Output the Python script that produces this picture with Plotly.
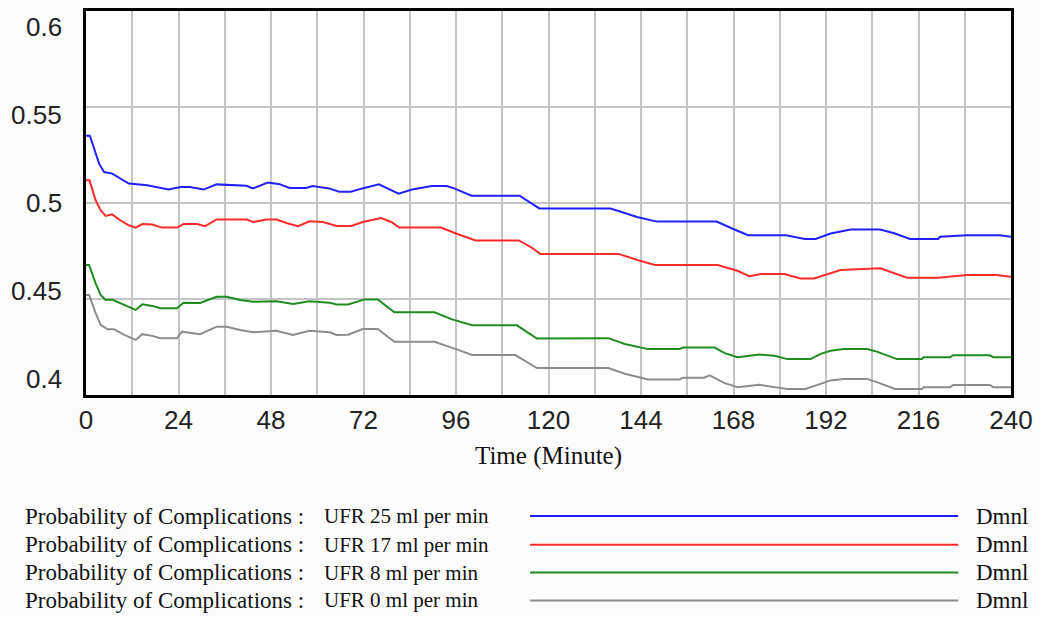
import plotly.graph_objects as go

# Simulated probability of complications over a 240-minute session,
# one series per ultrafiltration rate: (time in minutes, probability)
ufr25 = [(0, 0.535), (1, 0.535), (3.4, 0.5205), (4.7, 0.5161), (6.8, 0.5153), (9, 0.5127),
         (11.1, 0.5101), (15.9, 0.5092), (21.4, 0.507), (24.5, 0.5083), (27, 0.5083), (30.5, 0.507),
         (33.9, 0.5097), (41.6, 0.509), (43.3, 0.5076), (47.2, 0.5107), (50.2, 0.5098), (52.8, 0.5078),
         (57.1, 0.5078), (58.8, 0.5088), (63.1, 0.5076), (65.7, 0.5059), (68.7, 0.5059), (71.7, 0.5076),
         (76, 0.5097), (81.1, 0.5049), (84.6, 0.507), (89.7, 0.5088), (93.6, 0.5088), (95.7, 0.5075),
         (100, 0.5038), (112.5, 0.5038), (114.6, 0.501), (117.6, 0.4972), (136.1, 0.4971), (143, 0.4927),
         (148.1, 0.4903), (163.6, 0.4903), (168.7, 0.4858), (171.8, 0.4832), (181.6, 0.4832),
         (186.5, 0.4813), (189.3, 0.4813), (193.2, 0.4841), (198.4, 0.4862), (206, 0.4862),
         (209.5, 0.4844), (213.8, 0.4813), (221.1, 0.4813), (221.6, 0.4824), (228.5, 0.4832),
         (237.1, 0.4832), (240, 0.4824)]

ufr17 = [(0, 0.5118), (0.9, 0.5118), (2.5, 0.5014), (3.8, 0.4962), (5.1, 0.4933), (6.8, 0.4941),
         (8.6, 0.4914), (11.1, 0.4884), (12.9, 0.4872), (14.6, 0.489), (17.2, 0.4888), (19.7, 0.4872),
         (23.6, 0.4872), (25.3, 0.489), (28.8, 0.489), (30.9, 0.4879), (33.9, 0.4914), (41.7, 0.4914),
         (43.4, 0.4901), (46.9, 0.4914), (49.5, 0.4914), (52, 0.4896), (55, 0.4879), (58, 0.4905),
         (61.5, 0.4901), (63.2, 0.489), (65, 0.488), (68.8, 0.488), (71.8, 0.4901), (76.6, 0.4922),
         (79.2, 0.4901), (81.3, 0.4872), (92.1, 0.4872), (96, 0.4841), (101.1, 0.4805), (112.3, 0.4805),
         (115.3, 0.4772), (117.9, 0.4735), (138.1, 0.4735), (143.3, 0.4702), (147.6, 0.4677),
         (163.9, 0.4677), (169, 0.4647), (172.1, 0.4619), (175.1, 0.463), (181.2, 0.463),
         (185.4, 0.4607), (188.9, 0.4607), (192.3, 0.463), (195.8, 0.4651), (206.1, 0.466),
         (210.4, 0.463), (213, 0.4611), (221.2, 0.4611), (228.5, 0.4625), (236.2, 0.4625), (240, 0.4616)]

ufr8 = [(0, 0.4677), (0.8, 0.4677), (2.5, 0.4581), (3.8, 0.4521), (5.1, 0.4495), (6.8, 0.4497),
        (9.9, 0.4469), (12.9, 0.4443), (14.6, 0.4472), (17.2, 0.4464), (19.3, 0.4452), (23.6, 0.4452),
        (25.3, 0.4481), (29.6, 0.4479), (33.9, 0.4512), (36.5, 0.4512), (40, 0.4495), (43.4, 0.4486),
        (49.4, 0.4488), (53.7, 0.4474), (58, 0.4488), (63.2, 0.4481), (65, 0.4472), (68, 0.4472),
        (72.3, 0.4498), (75.7, 0.4498), (80, 0.4431), (90.4, 0.4431), (95, 0.4394), (100.2, 0.4363),
        (111.8, 0.4363), (117, 0.4294), (135.5, 0.4296), (139.8, 0.4266), (145.8, 0.4239), (154, 0.4239),
        (154.9, 0.4247), (163.1, 0.4247), (165.7, 0.4218), (169.1, 0.4197), (174.7, 0.4211),
        (178.6, 0.4204), (182, 0.4187), (188, 0.4187), (190.6, 0.4214), (193.2, 0.423), (196.6, 0.4239),
        (202.7, 0.4239), (205.2, 0.4226), (209.5, 0.4197), (210.4, 0.4187), (216.9, 0.4187),
        (217.3, 0.4197), (224.2, 0.4197), (225, 0.4207), (234.5, 0.4207), (235.4, 0.4197), (240, 0.4197)]

ufr0 = [(0, 0.4521), (0.8, 0.4521), (2.5, 0.4426), (3.8, 0.4365), (5.6, 0.4342), (7.3, 0.4342),
        (9.9, 0.4313), (12.9, 0.4287), (14.6, 0.4317), (17.2, 0.4308), (19.3, 0.4296), (23.6, 0.4296),
        (24.9, 0.433), (29.6, 0.4317), (33.9, 0.4356), (36.5, 0.4355), (40, 0.4339), (43.4, 0.4327),
        (49.4, 0.4335), (53.7, 0.4313), (58, 0.4335), (63.2, 0.4327), (65, 0.4313), (68, 0.4314),
        (71.8, 0.4344), (75.7, 0.4344), (80, 0.4277), (90.4, 0.4277), (96, 0.4239), (100.2, 0.4208),
        (111.4, 0.4208), (117, 0.414), (135.5, 0.414), (139.8, 0.4111), (145.8, 0.4081), (154, 0.4081),
        (154.9, 0.409), (160.4, 0.409), (161.8, 0.4102), (165.7, 0.4062), (169.1, 0.4041),
        (174.7, 0.4053), (178.6, 0.4041), (182, 0.4031), (186.7, 0.4031), (189.8, 0.4053),
        (193.2, 0.4076), (196.6, 0.4083), (202.7, 0.4083), (205.2, 0.4067), (209.9, 0.4031),
        (216.9, 0.4031), (217.3, 0.4041), (224.2, 0.4041), (225, 0.4052), (234.5, 0.4052),
        (235.4, 0.4041), (240, 0.4041)]

series_names = ["UFR 25 ml per min", "UFR 17 ml per min", "UFR 8 ml per min", "UFR 0 ml per min"]
series_data = [ufr25, ufr17, ufr8, ufr0]
series_colors = ["#2020ff", "#ff2a2a", "#1e8c1e", "#8c8c8c"]
variable_name = "Probability of Complications :"
unit_label = "Dmnl"

x_ticks = [0, 24, 48, 72, 96, 120, 144, 168, 192, 216, 240]
y_ticks = [0.6, 0.55, 0.5, 0.45, 0.4]
y_tick_text = ["0.6", "0.55", "0.5", "0.45", "0.4"]
x_title = "Time (Minute)"

W, H = 1041, 617
M_L, M_R, M_T, M_B = 86, 26, 8, 222
PW, PH = W - M_L - M_R, H - M_T - M_B


def paper_x(px):
    return (px - M_L) / PW


def paper_y(py):
    return (H - M_B - py) / PH


fig = go.Figure()
for name, data, color in zip(series_names, series_data, series_colors):
    t = [p[0] for p in data]
    v = [p[1] for p in data]
    fig.add_trace(go.Scatter(x=t, y=v, mode="lines", name=name,
                             line=dict(color=color, width=2), showlegend=False))

annotations = []
# value labels on the left, spread inside the axis span
for val, txt in zip(y_ticks, y_tick_text):
    annotations.append(dict(xref="paper", yref="y", x=0, y=0.5 + (val - 0.5) * 0.915,
                            xanchor="right", yanchor="middle", xshift=-22, showarrow=False,
                            text=txt, font=dict(family="Liberation Sans", size=26, color="#222")))

# legend block below the chart
row_y = [517, 546, 574, 602]
shapes = []
for i, (name, color) in enumerate(zip(series_names, series_colors)):
    y = paper_y(row_y[i])
    annotations.append(dict(xref="paper", yref="paper", x=paper_x(23), y=y, xanchor="left",
                            yanchor="middle", showarrow=False, text=variable_name,
                            font=dict(family="Liberation Serif", size=23, color="#111")))
    annotations.append(dict(xref="paper", yref="paper", x=paper_x(323), y=y, xanchor="left",
                            yanchor="middle", showarrow=False, text=name,
                            font=dict(family="Liberation Serif", size=21, color="#111")))
    annotations.append(dict(xref="paper", yref="paper", x=paper_x(978), y=y, xanchor="left",
                            yanchor="middle", showarrow=False, text=unit_label,
                            font=dict(family="Liberation Serif", size=23, color="#111")))
    shapes.append(dict(type="line", xref="paper", yref="paper", x0=paper_x(532), x1=paper_x(962),
                       y0=y, y1=y, line=dict(color=color, width=2)))

grid_color = "#c4c4c4"
fig.update_layout(
    width=W, height=H,
    margin=dict(l=M_L, r=M_R, t=M_T, b=M_B),
    paper_bgcolor="#fdfdfd", plot_bgcolor="#ffffff",
    xaxis=dict(range=[0, 240], tickvals=x_ticks, ticktext=[str(v) for v in x_ticks],
               showgrid=True, gridcolor=grid_color, gridwidth=2,
               minor=dict(dtick=12, tick0=0, showgrid=True, gridcolor=grid_color, gridwidth=2),
               showline=True, linecolor="#000", linewidth=3, mirror=True,
               ticks="", zeroline=False, ticklabelstandoff=0,
               tickfont=dict(family="Liberation Sans", size=26, color="#222"),
               title=dict(text=x_title, standoff=13,
                          font=dict(family="Liberation Serif", size=25, color="#111"))),
    yaxis=dict(range=[0.4, 0.6], tickvals=[0.45, 0.5, 0.55], showticklabels=False,
               showgrid=True, gridcolor=grid_color, gridwidth=2,
               showline=True, linecolor="#000", linewidth=3, mirror=True,
               ticks="", zeroline=False),
    annotations=annotations,
    shapes=shapes,
)

fig.write_html("out.html")
